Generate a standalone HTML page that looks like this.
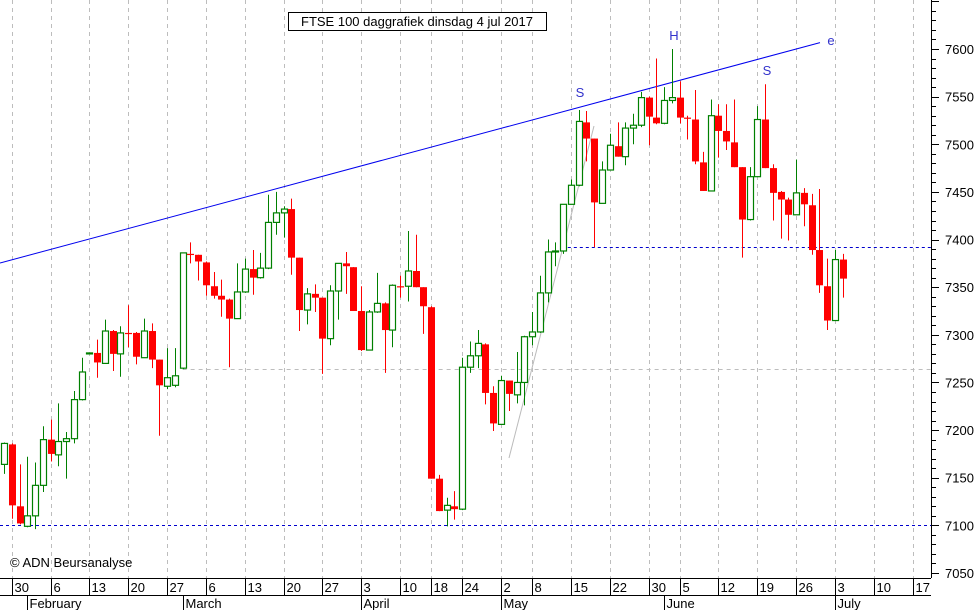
<!DOCTYPE html>
<html><head><meta charset="utf-8"><style>
html,body{margin:0;padding:0;background:#fff;}
svg{display:block;font-family:"Liberation Sans",sans-serif;}
</style></head><body>
<svg id="chart" width="980" height="610" viewBox="0 0 980 610" xmlns="http://www.w3.org/2000/svg">
<rect x="0" y="0" width="980" height="610" fill="#fff"/>
<g id="grid"></g>
<g id="refs"></g>
<g id="candles"></g>
<g id="axes"></g>
<rect x="288.5" y="12.5" width="258" height="18" fill="#fff" stroke="#000" stroke-width="1"/>
<text x="417" y="26" font-size="13" text-anchor="middle" fill="#000">FTSE 100 daggrafiek dinsdag 4 jul 2017</text>
<text x="10" y="567" font-size="13" fill="#000">© ADN Beursanalyse</text>
</svg>
<script>
const opens=[7164,7185,7120,7099,7110,7142,7190,7174,7188,7191,7232,7280,7281,7270,7304,7280,7302,7302,7276,7304,7274,7246,7247,7265,7385,7384,7376,7351,7341,7337,7317,7345,7369,7360,7370,7418,7428,7432,7381,7326,7343,7339,7296,7346,7375,7371,7325,7284,7324,7333,7305,7351,7351,7367,7350,7329,7149,7116,7120,7117,7266,7278,7290,7239,7206,7252,7237,7250,7298,7303,7344,7387,7388,7437,7457,7523,7506,7438,7473,7498,7487,7517,7520,7549,7528,7522,7546,7549,7528,7526,7481,7451,7530,7514,7502,7476,7421,7466,7526,7475,7450,7442,7426,7449,7436,7389,7351,7315,7379];
const highs=[7187,7186,7164,7172,7166,7204,7211,7228,7198,7241,7276,7281,7295,7316,7305,7309,7331,7303,7317,7312,7274,7286,7286,7386,7397,7384,7377,7366,7358,7338,7375,7380,7389,7386,7447,7450,7435,7443,7381,7349,7353,7339,7352,7375,7387,7371,7351,7326,7365,7334,7353,7362,7409,7405,7350,7330,7153,7129,7136,7276,7293,7305,7291,7246,7257,7252,7282,7299,7324,7362,7400,7397,7437,7463,7536,7535,7506,7482,7511,7523,7523,7532,7555,7550,7590,7560,7600,7566,7530,7557,7492,7547,7542,7542,7547,7476,7476,7540,7563,7479,7451,7444,7484,7454,7448,7453,7380,7389,7385];
const lows=[7154,7107,7101,7098,7096,7135,7167,7162,7149,7186,7231,7280,7255,7270,7262,7256,7287,7269,7276,7265,7194,7243,7245,7264,7375,7357,7341,7338,7319,7266,7317,7344,7342,7359,7369,7405,7402,7363,7304,7311,7324,7259,7289,7316,7343,7325,7283,7284,7323,7260,7287,7339,7335,7350,7301,7149,7115,7099,7106,7116,7260,7265,7227,7199,7206,7220,7228,7226,7289,7302,7334,7372,7385,7437,7456,7482,7392,7438,7473,7487,7478,7500,7518,7499,7521,7521,7543,7522,7505,7479,7451,7451,7486,7494,7476,7381,7420,7466,7475,7420,7401,7399,7426,7414,7384,7344,7305,7315,7339];
const closes=[7186,7121,7102,7110,7142,7190,7175,7188,7191,7232,7261,7281,7271,7304,7280,7302,7301,7277,7304,7274,7247,7255,7257,7386,7384,7377,7352,7341,7337,7317,7345,7369,7360,7370,7418,7428,7432,7381,7326,7343,7339,7296,7346,7375,7372,7325,7284,7324,7333,7305,7352,7350,7367,7350,7330,7149,7115,7121,7117,7266,7278,7291,7239,7207,7252,7238,7250,7298,7303,7344,7387,7388,7437,7457,7524,7506,7439,7473,7499,7487,7517,7520,7549,7529,7522,7546,7549,7528,7527,7482,7451,7530,7514,7503,7476,7421,7466,7526,7475,7449,7442,7426,7449,7437,7389,7352,7315,7379,7359];
const gridIdx=[1,6,11,16,21,26,31,36,41,46,51,55,59,64,68,73,78,83,87,92,97,102,107,112,117];
const gridLabels=["30","6","13","20","27","6","13","20","27","3","10","18","24","2","8","15","22","30","5","12","19","26","3","10","17"];
const monthIdx=[3,23,46,64,85,107];
const monthLabels=["February","March","April","May","June","July"];
const yTicks=[7050,7100,7150,7200,7250,7300,7350,7400,7450,7500,7550,7600];
const supportLow=7100, supportMid=7264, necklineLevel=7392;
const trendStart=[0,7368], trendEnd=[108.5,7599];

const NS="http://www.w3.org/2000/svg";
const PR=931, PB=578;
function X(i){return 4+7.766*i;}
function Y(v){return 573-(v-7050)*0.9527;}
function mk(tag,attrs,parent,txt){const e=document.createElementNS(NS,tag);for(const k in attrs)e.setAttribute(k,attrs[k]);if(txt!==undefined)e.textContent=txt;parent.appendChild(e);return e;}
const grid=document.getElementById('grid'),refs=document.getElementById('refs'),cg=document.getElementById('candles'),ax=document.getElementById('axes');

gridIdx.forEach((gi,k)=>{
  const x=Math.round(X(gi))+0.5;
  const l=mk('line',{x1:x,y1:0,x2:x,y2:PB,stroke:'#bdbdbd','stroke-width':1,'stroke-dasharray':'4,4'},grid);
  
  
  const t=mk('line',{x1:x,y1:PB,x2:x,y2:595,stroke:'#000','stroke-width':1},ax);
  
  
  const tx=mk('text',{x:x+2,y:592,'font-size':13,fill:'#000'},ax,gridLabels[k]);
  
  
});
monthIdx.forEach((mi,k)=>{
  const x=Math.round(X(mi))+0.5;
  const l=mk('line',{x1:x,y1:595,x2:x,y2:610,stroke:'#000','stroke-width':1},ax);
  
  
  const t=mk('text',{x:x+2,y:608,'font-size':13,fill:'#000'},ax,monthLabels[k]);
  
  
});
// reference lines
let r=mk('line',{x1:0,y1:Math.round(Y(supportLow))+0.5,x2:PR,y2:Math.round(Y(supportLow))+0.5,stroke:'#0000cc','stroke-width':1,'stroke-dasharray':'3,3'},refs);


r=mk('line',{x1:X(23),y1:Math.round(Y(supportMid))+0.5,x2:PR,y2:Math.round(Y(supportMid))+0.5,stroke:'#bdbdbd','stroke-width':1,'stroke-dasharray':'4,4'},refs);


r=mk('line',{x1:X(72.6),y1:Math.round(Y(necklineLevel))+0.5,x2:PR,y2:Math.round(Y(necklineLevel))+0.5,stroke:'#0000cc','stroke-width':1,'stroke-dasharray':'3,3'},refs);


r=mk('line',{x1:0,y1:263,x2:820,y2:42.6,stroke:'#0000ee','stroke-width':1},refs);


r=mk('line',{x1:509,y1:458,x2:594,y2:126,stroke:'#bbbbbb','stroke-width':1},refs);


[["S",580,97,'label-shoulder-left'],["H",674,40,'label-head'],["S",767,75,'label-shoulder-right'],["e",831,45,'label-trendline-end']].forEach(a=>{
  const t=mk('text',{x:a[1],y:a[2],'font-size':13,fill:'#3333cc','text-anchor':'middle'},refs,a[0]);
  
  
});
// candles
for(let i=0;i<opens.length;i++){
  const x=Math.round(X(i));
  const up=closes[i]>=opens[i];
  const col=up?'#008000':'#ff0000';
  const g=mk('g',{},cg);
  
  
  mk('line',{x1:x+0.5,y1:Y(highs[i]),x2:x+0.5,y2:Y(lows[i]),stroke:col,'stroke-width':1},g);
  const top=Y(Math.max(opens[i],closes[i])),bot=Y(Math.min(opens[i],closes[i]));
  if(up){
    mk('rect',{x:x-2.5,y:top,width:6,height:Math.max(bot-top,1),fill:'#fff',stroke:col,'stroke-width':1.2},g);
  }else{
    mk('rect',{x:x-3,y:top,width:7,height:Math.max(bot-top,1.2),fill:col},g);
  }
}
// axes
let a=mk('line',{x1:PR+0.5,y1:0,x2:PR+0.5,y2:PB,stroke:'#000','stroke-width':1},ax);


a=mk('line',{x1:0,y1:PB+0.5,x2:PR,y2:PB+0.5,stroke:'#000','stroke-width':1},ax);


a=mk('line',{x1:0,y1:595.5,x2:PR,y2:595.5,stroke:'#000','stroke-width':1},ax);


for(let v=7050;v<=7650;v+=10){
  const y=Math.round(Y(v))+0.5; if(y<0)continue;
  const major=v%50===0;
  const t=mk('line',{x1:PR,y1:y,x2:PR+(major?8:5),y2:y,stroke:'#000','stroke-width':1},ax);
  
  
}
yTicks.forEach(v=>{
  const t=mk('text',{x:945,y:Y(v)+5,'font-size':13,fill:'#000'},ax,String(v));
  
  
});
</script>
</body></html>
